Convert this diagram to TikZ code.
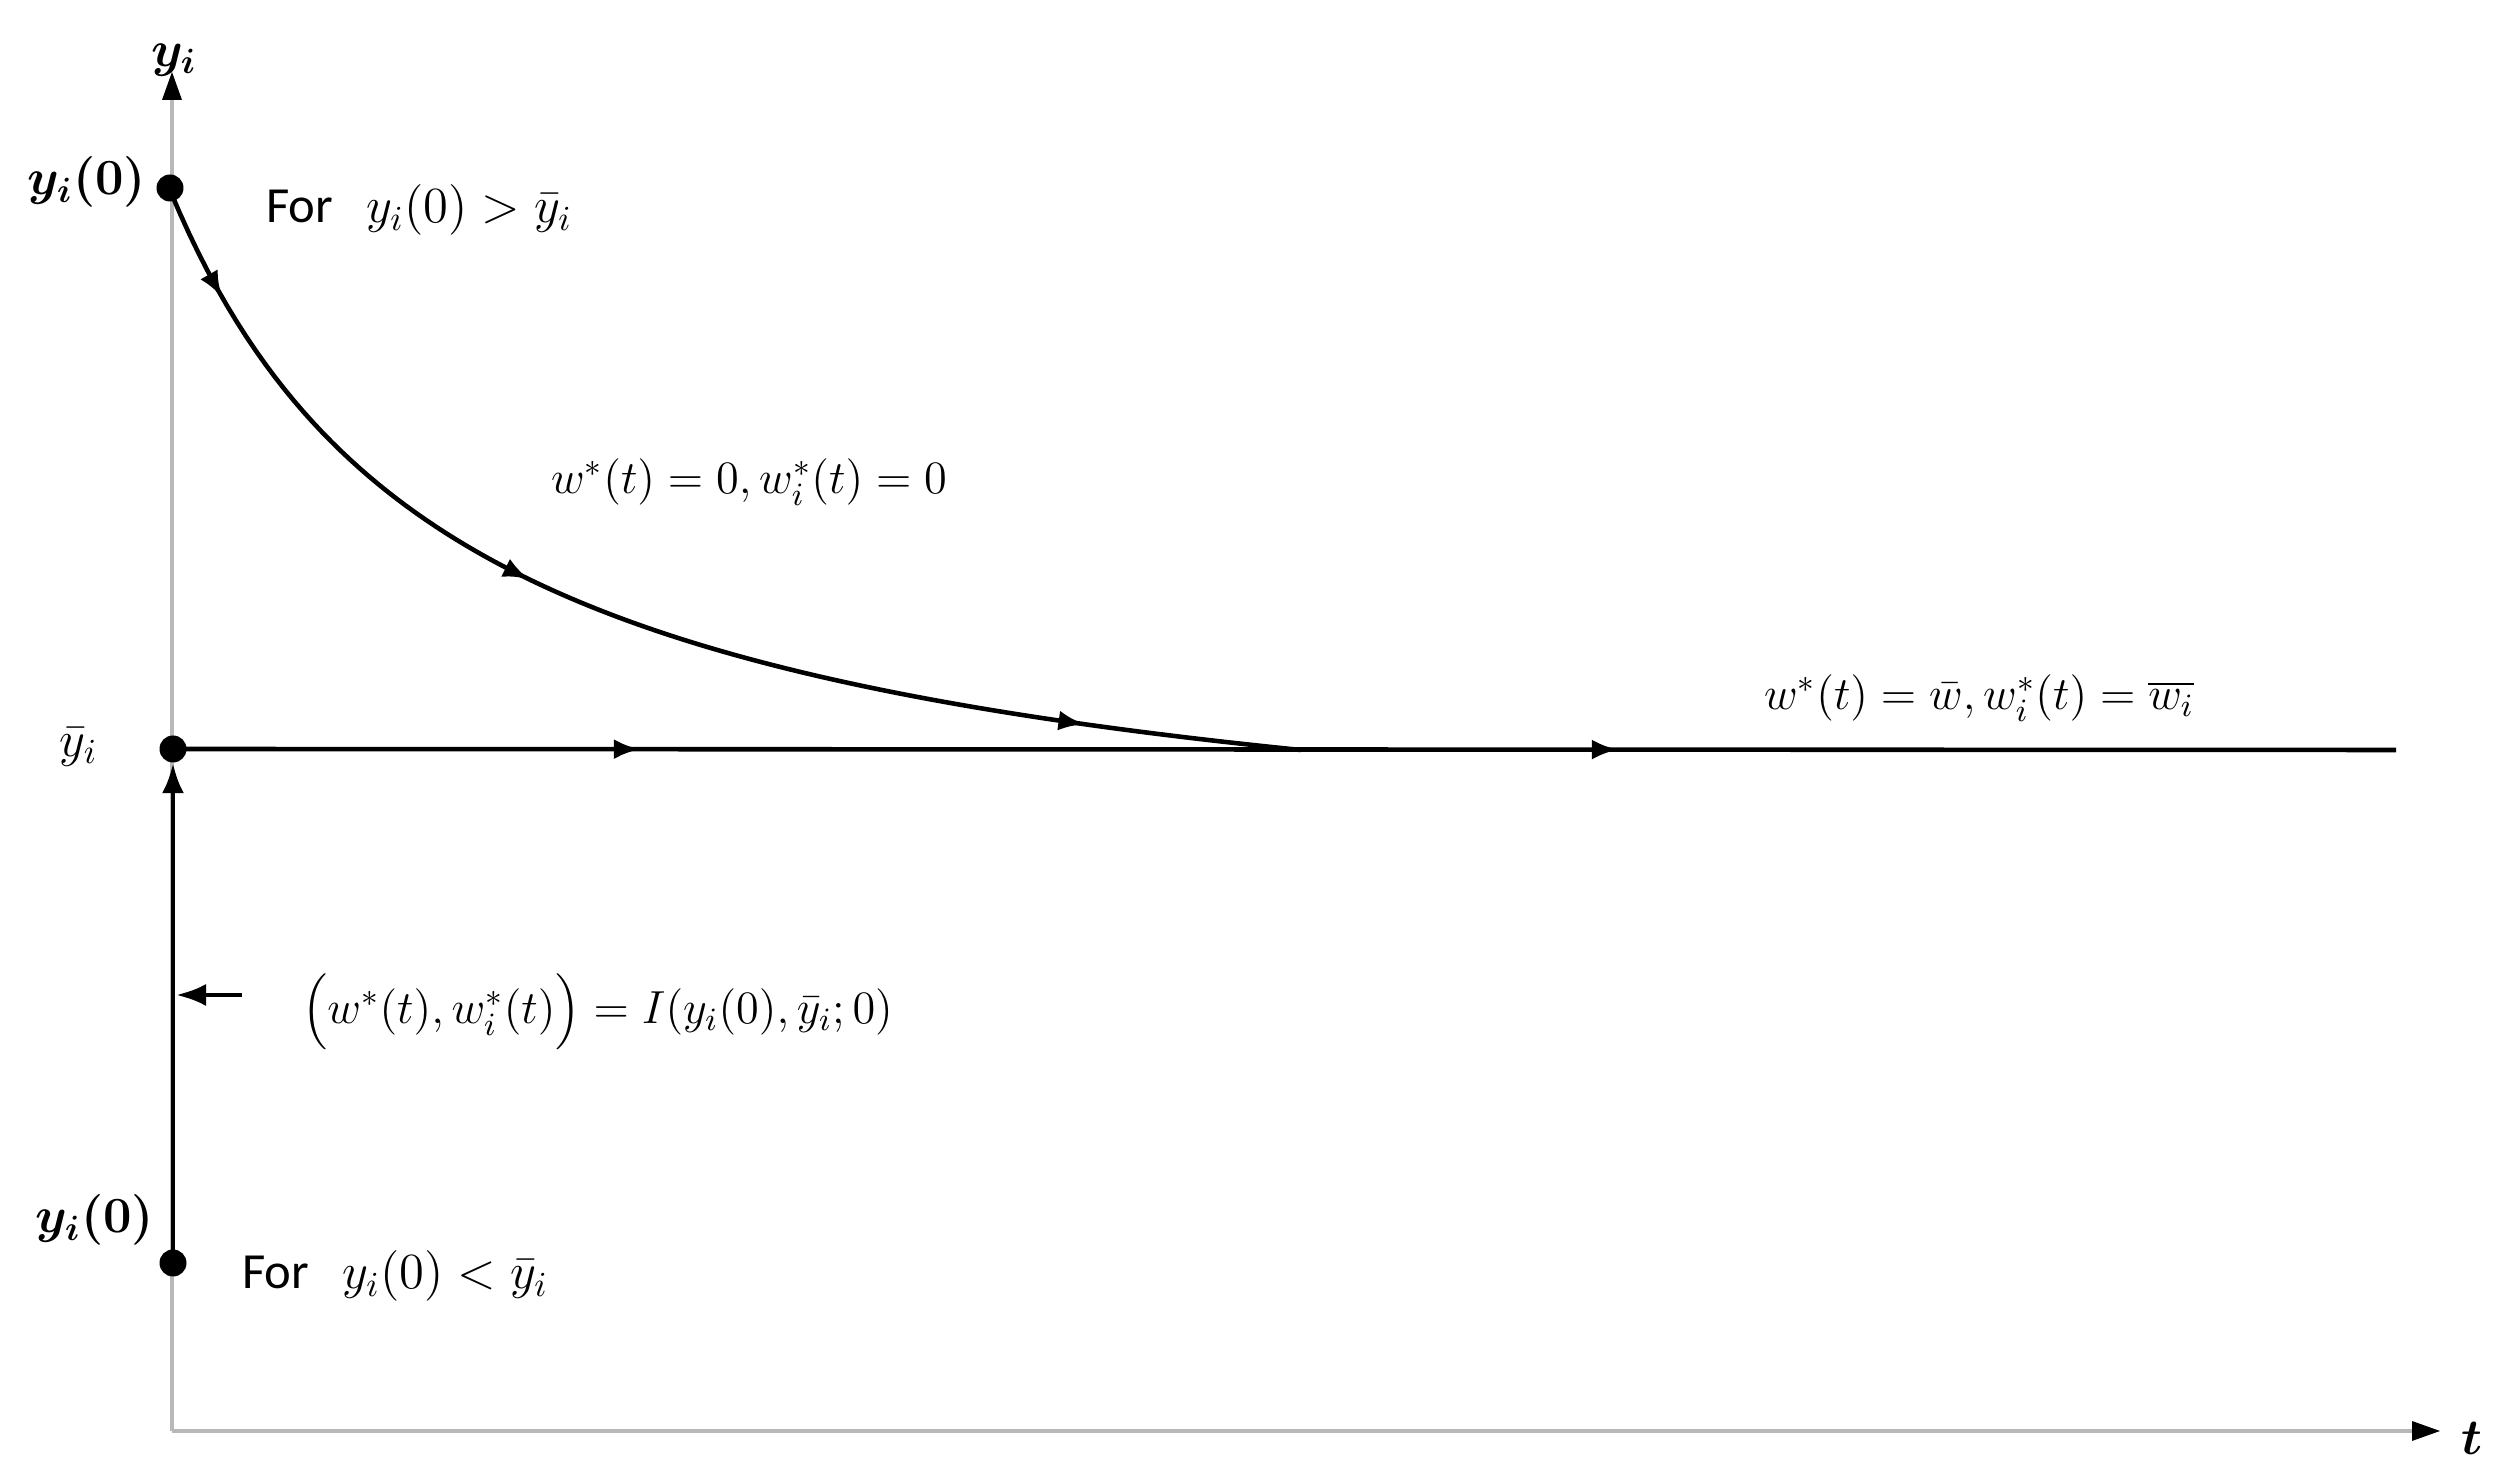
\RequirePackage{fix-cm}
\documentclass[tikz,border=0pt]{standalone}
\usepackage{amsmath,bm}
\usepackage{fontspec}
\newfontfamily\labelfont{Carlito}
\usetikzlibrary{arrows.meta,decorations.markings}
\tikzset{
  axisline/.style={draw=black!28, line width=1.3pt},
  pathline/.style={draw=black, line width=1.3pt},
  dotmark/.style={circle, fill=black, inner sep=0pt, minimum size=0.27cm},
  lbl/.style={font=\fontsize{14.4}{17}\selectfont, inner sep=1pt},
  eqlbl/.style={font=\fontsize{13.2}{16}\selectfont, inner sep=1pt},
  midarrow/.style={postaction={decorate, decoration={markings, mark=at position #1 with {\arrow{Latex[length=0.26cm,width=0.2cm]}}}}},
  tipstyle/.style={-{Latex[length=0.3cm,width=0.22cm]}}
}
\begin{document}
\begin{tikzpicture}
\useasboundingbox[fill=white] (0,0) rectangle (25.13,14.72);
% key points
\coordinate (O) at (1.72,0.41);
\coordinate (ytop) at (1.72,13.74);
\coordinate (tend) at (24.14,0.41);
\coordinate (hend) at (23.96,7.22);
\coordinate (larS) at (2.42,4.77);
\coordinate (larE) at (1.76,4.77);
% axes
\draw[axisline] (O) -- (ytop);
\draw[axisline] (O) -- (tend);
\fill[black] (1.72,14.0) -- (1.62,13.72) -- (1.82,13.72) -- cycle;
\fill[black] (24.40,0.41) -- (24.12,0.31) -- (24.12,0.51) -- cycle;
% dots
\node[dotmark] (d0) at (1.70,12.84) {};
\node[dotmark] (dbar) at (1.73,7.23) {};
\node[dotmark] (dlow) at (1.73,2.09) {};
% horizontal steady-state line
\draw[pathline, midarrow=0.21, midarrow=0.65] (dbar.center) -- (hend);
% vertical jump from below
\draw[pathline, tipstyle] (dlow.center) -- (dbar.south);
% small left arrow
\draw[pathline, tipstyle] (larS) -- (larE);
% decreasing path
\draw[pathline, midarrow=0.089, midarrow=0.406, midarrow=0.837]
  plot[domain=1.70:13.01, samples=120, variable=\x] ({\x},{5.784+20.4/(\x+1.2)});
% labels
\node[lbl] (lyi) at (1.74,14.12) {$\bm{y_i}$};
\node[lbl] (lt) at (24.72,0.34) {$\bm{t}$};
\node[lbl, anchor=east] (ly0a) at (1.50,12.90) {$\bm{y_i(0)}$};
\node[lbl, anchor=east] (lybar) at (1.02,7.25) {$\bar{y}_i$};
\node[lbl, anchor=east] (ly0b) at (1.58,2.52) {$\bm{y_i(0)}$};
\node[lbl, anchor=west] (lfor1) at (2.62,12.62) {{\labelfont For}\ \ $y_i(0) > \bar{y}_i$};
\node[lbl, anchor=west] (lfor2) at (2.38,1.96) {{\labelfont For}\ \ $y_i(0) < \bar{y}_i$};
\node[eqlbl, anchor=west] (lzero) at (5.47,9.90) {$w^*(t) = 0, w_i^*(t) = 0$};
\node[eqlbl, anchor=west] (lbarw) at (17.60,7.74) {$w^*(t) = \bar{w}, w_i^*(t) = \overline{w_i}$};
\node[eqlbl, anchor=west] (lI) at (2.98,4.60) {$\Big(w^*(t), w_i^*(t)\Big) = I(y_i(0), \bar{y}_i; 0)$};
\end{tikzpicture}
\end{document}
